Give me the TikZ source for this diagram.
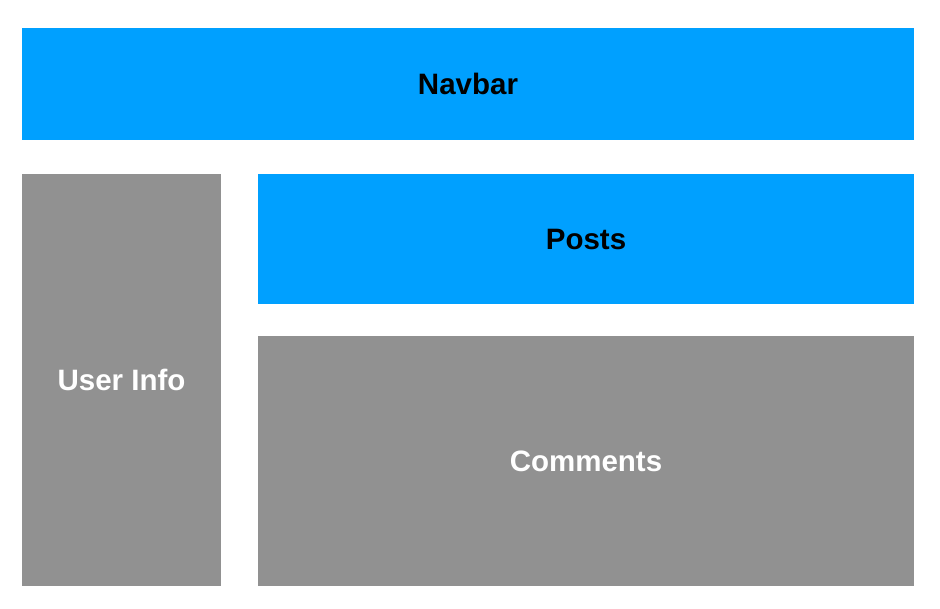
\documentclass[tikz,border=0pt]{standalone}
\usepackage{fontspec}
\setmainfont{Liberation Sans}
\definecolor{barblue}{RGB}{0,160,255}
\definecolor{panelgray}{RGB}{145,145,145}
\usetikzlibrary{positioning}

\begin{document}
\begin{tikzpicture}[x=1pt,y=-1pt,
    panel/.style={rectangle,inner sep=0pt,outer sep=0pt,
                  font=\fontsize{29.5}{33}\selectfont\bfseries},
    bluepanel/.style={panel,fill=barblue,text=black},
    graypanel/.style={panel,fill=panelgray,text=white},
  ]
  \useasboundingbox (0,0) rectangle (940,608);

  \node[bluepanel,minimum width=892pt,minimum height=112pt] (navbar) at (468,84) {Navbar};
  \node[graypanel,minimum width=199pt,minimum height=412pt] (userinfo) at (121.5,380) {User Info};
  \node[bluepanel,minimum width=656pt,minimum height=130pt] (posts) at (586,239) {Posts};
  \node[graypanel,minimum width=656pt,minimum height=250pt] (comments) at (586,461) {Comments};
\end{tikzpicture}
\end{document}
